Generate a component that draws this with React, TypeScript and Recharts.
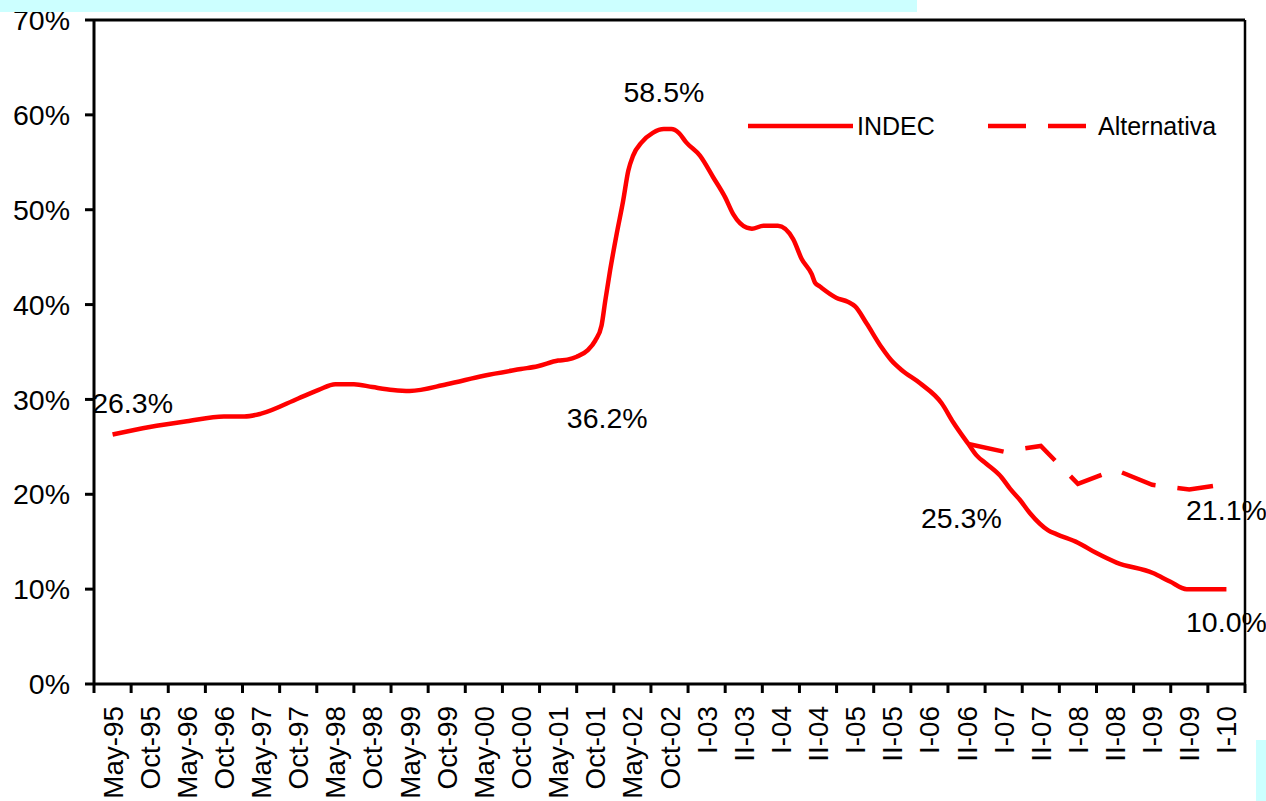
import React from "react"
import { LineChart, Line, XAxis, YAxis, ReferenceLine, Legend } from "recharts"

// category labels under the x axis (one band each)
const periods = [
  "May-95", "Oct-95", "May-96", "Oct-96", "May-97", "Oct-97", "May-98", "Oct-98",
  "May-99", "Oct-99", "May-00", "Oct-00", "May-01", "Oct-01", "May-02", "Oct-02",
  "I-03", "II-03", "I-04", "II-04", "I-05", "II-05", "I-06", "II-06",
  "I-07", "II-07", "I-08", "II-08", "I-09", "II-09", "I-10",
]

const yTicks = [0, 10, 20, 30, 40, 50, 60, 70]

// INDEC series: position on the period scale (0 = May-95) and rate in %
const indecPos = [
  0, 1, 2, 3, 3.55, 4, 5, 5.55, 6, 6.5, 7, 7.55, 8, 9, 10, 11, 11.45, 12, 12.25, 12.5,
  12.8, 13, 13.17, 13.27, 13.4, 13.58, 13.75, 13.89, 14.02, 14.25, 14.55, 14.85, 15.05,
  15.25, 15.45, 15.82, 16.18, 16.5, 16.72, 17.08, 17.22, 17.53, 17.92, 18.33, 18.56,
  18.83, 18.92, 19.05, 19.5, 19.8, 20, 20.31, 20.71, 20.98, 21.25, 21.75, 22.33, 22.64,
  23.05, 23.27, 23.54, 23.94, 24.17, 24.44, 24.71, 25.2, 25.42, 26, 26.5, 27.04, 28.02,
  28.48, 28.93, 30,
]
const indecVal = [
  26.3, 27.1, 27.7, 28.2, 28.2, 28.5, 30.1, 31.0, 31.6, 31.6, 31.3, 31.0, 30.9, 31.6, 32.5,
  33.2, 33.5, 34.1, 34.2, 34.5, 35.2, 36.2, 37.8, 40.4, 43.6, 47.5, 50.9, 54.1, 55.7, 57.1,
  58.1, 58.5, 58.5, 58.1, 57.1, 55.7, 53.4, 51.3, 49.5, 48.1, 48.0, 48.3, 48.3, 46.9, 44.8,
  43.2, 42.3, 41.9, 40.7, 40.3, 39.8, 38.0, 35.5, 34.1, 33.1, 31.7, 29.6, 27.6, 25.3, 24.1,
  23.2, 21.8, 20.6, 19.4, 18.0, 16.2, 15.8, 14.9, 13.8, 12.8, 11.7, 10.8, 10.0, 10.0,
]

// Alternative estimate from II-06 on
const altPos = [23.05, 24, 25, 26, 27, 28, 29, 30]
const altVal = [25.3, 24.5, 25.1, 21.1, 22.6, 21.0, 20.5, 21.1]

// points that carry a value label
const indecLabelled = [0, 13, 14.85, 23.05, 30]
const altLabelled = [30]

// label offsets from the point (text centre), styling only
const labelOffset: Record<string, [number, number]> = {
  "indec-0": [20, -32],
  "indec-13": [12, 77],
  "indec-14.85": [0, -37],
  "indec-23.05": [-7, 74],
  "indec-30": [0, 33],
  "alt-30": [0, 26],
}

const indecData = indecPos.map((p, i) => ({ pos: p, value: indecVal[i] }))
const altData = altPos.map((p, i) => ({ pos: p, value: altVal[i] }))

const FONT = "'Liberation Sans', Arial, sans-serif"
const FS = 28.5
const XFS = 27.8
const RED = "#ff0000"

const W = 1266
const H = 801
const PLOT_LEFT = 94
const PLOT_RIGHT = 1245
const BAND = (PLOT_RIGHT - PLOT_LEFT) / periods.length

const xTicks = Array.from({ length: periods.length + 1 }, (_, i) => i - 0.5)

function XTick(props: any) {
  const { x, y, payload } = props
  const i = Math.round(payload.value + 0.5)
  if (i < 0 || i >= periods.length) return null
  const cx = x + BAND / 2 + XFS * 0.36
  return (
    <text
      x={cx}
      y={y}
      transform={`rotate(-90 ${cx} ${y})`}
      textAnchor="end"
      fontSize={XFS}
      fontFamily={FONT}
      fill="#000"
    >
      {periods[i]}
    </text>
  )
}

function makeLabel(series: string, data: { pos: number; value: number }[], marked: number[]) {
  return (props: any) => {
    const { x, y, index } = props
    const d = data[index]
    if (!d || !marked.includes(d.pos)) return null
    const off = labelOffset[`${series}-${d.pos}`] || [0, -20]
    return (
      <text
        key={`${series}-${index}`}
        x={x + off[0]}
        y={y + off[1] + FS * 0.36}
        textAnchor="middle"
        fontSize={FS}
        fontFamily={FONT}
        fill="#000"
      >
        {d.value.toFixed(1)}%
      </text>
    )
  }
}

function LegendBox() {
  return (
    <svg width={500} height={44} style={{ display: "block" }}>
      <line x1={8} x2={113} y1={21} y2={21} stroke={RED} strokeWidth={4.5} />
      <text x={117} y={21 + 25 * 0.36} fontSize={25} fontFamily={FONT} fill="#000">
        INDEC
      </text>
      <line x1={248} x2={347} y1={21} y2={21} stroke={RED} strokeWidth={4.5} strokeDasharray="38 22" />
      <text x={358} y={21 + 25 * 0.36} fontSize={25} fontFamily={FONT} fill="#000">
        Alternativa
      </text>
    </svg>
  )
}

export default function App() {
  return (
    <div style={{ position: "absolute", left: 0, top: 0, width: W, height: H, background: "#fff", overflow: "hidden" }}>
      <LineChart width={W} height={H} margin={{ top: 20, right: W - PLOT_RIGHT, left: 0, bottom: 0 }}>
        <XAxis
          type="number"
          dataKey="pos"
          domain={[-0.5, periods.length - 0.5]}
          ticks={xTicks}
          interval={0}
          allowDataOverflow
          height={117}
          tickSize={9}
          tickMargin={13}
          tick={<XTick />}
          axisLine={{ stroke: "#000", strokeWidth: 3 }}
          tickLine={{ stroke: "#000", strokeWidth: 3 }}
        />
        <YAxis
          type="number"
          domain={[0, 70]}
          ticks={yTicks}
          interval={0}
          width={PLOT_LEFT}
          tickSize={9}
          tickMargin={15}
          tickFormatter={(v: number) => `${v}%`}
          tick={{ fill: "#000", fontSize: FS, fontFamily: FONT }}
          axisLine={{ stroke: "#000", strokeWidth: 3 }}
          tickLine={{ stroke: "#000", strokeWidth: 3 }}
        />
        <ReferenceLine y={70} stroke="#000" strokeWidth={3} ifOverflow="visible" />
        <ReferenceLine x={periods.length - 0.5} stroke="#000" strokeWidth={2.5} ifOverflow="visible" />
        <Legend
          layout="horizontal"
          verticalAlign="middle"
          align="center"
          content={<LegendBox />}
          wrapperStyle={{ position: "absolute", left: 740, top: 105, width: 500 }}
        />
        <Line
          data={indecData}
          dataKey="value"
          name="INDEC"
          type="monotone"
          stroke={RED}
          strokeWidth={4.5}
          dot={false}
          activeDot={false}
          isAnimationActive={false}
          label={makeLabel("indec", indecData, indecLabelled)}
        />
        <Line
          data={altData}
          dataKey="value"
          name="Alternativa"
          type="linear"
          stroke={RED}
          strokeWidth={4.5}
          strokeDasharray="36 22"
          dot={false}
          activeDot={false}
          isAnimationActive={false}
          label={makeLabel("alt", altData, altLabelled)}
        />
      </LineChart>
      <div style={{ position: "absolute", left: 0, top: 0, width: 917, height: 12, background: "#ccffff" }} />
      <div style={{ position: "absolute", left: 1256, top: 740, width: 10, height: 61, background: "#ccffff" }} />
    </div>
  )
}
